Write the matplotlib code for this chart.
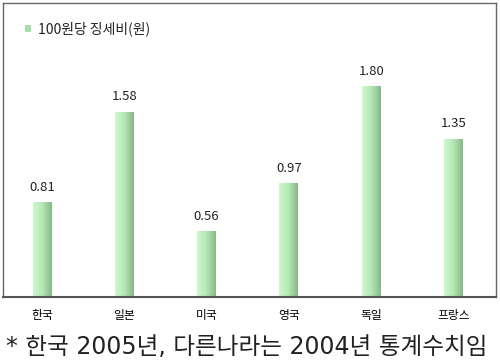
import matplotlib
matplotlib.use("Agg")
import matplotlib.pyplot as plt
import numpy as np
from matplotlib.colors import LinearSegmentedColormap
from matplotlib.patches import Rectangle

plt.rcParams['font.family'] = ['Noto Sans CJK KR', 'DejaVu Sans']

categories = ['한국', '일본', '미국', '영국', '독일', '프랑스']
values = [0.81, 1.58, 0.56, 0.97, 1.80, 1.35]
value_labels = ['0.81', '1.58', '0.56', '0.97', '1.80', '1.35']
legend_label = '100원당 징세비(원)'
footnote = '* 한국 2005년, 다른나라는 2004년 통계수치임'

W, H = 500, 362
fig = plt.figure(figsize=(W / 100, H / 100), dpi=100)
ax = fig.add_axes([3 / W, 1 - 297 / H, 493 / W, 294 / H])
ax.set_xlim(-0.474, 5.516)
ax.set_ylim(0, 2.508)

x = np.arange(len(categories))
bars = ax.bar(x, values, width=0.23, color='none', edgecolor='none')

cmap = LinearSegmentedColormap.from_list('g', ['#ccf9cc', '#b5e6b5', '#88b888'])
grad = np.linspace(0, 1, 64).reshape(1, -1)
for b in bars:
    x0, w, h = b.get_x(), b.get_width(), b.get_height()
    im = ax.imshow(grad, cmap=cmap, extent=[x0, x0 + w, 0, h], aspect='auto',
                   interpolation='bilinear', zorder=2)
    im.set_clip_path(b)

for xi, v, lab in zip(x, values, value_labels):
    ax.annotate(lab, (xi, v), xytext=(0, 6), textcoords='offset points',
                ha='center', va='bottom', fontsize=9.5, color='#222222')

ax.set_xticks(x)
ax.set_xticklabels(categories, fontsize=8.5)
ax.tick_params(axis='x', length=0, pad=9)
ax.set_yticks([])
for s in ax.spines.values():
    s.set_color('#666666')
    s.set_linewidth(1.0)
ax.spines['bottom'].set_color('#555555')
ax.spines['bottom'].set_linewidth(1.5)

# legend
ax.add_patch(Rectangle((0.045, 0.9), 0.012, 0.024, transform=ax.transAxes,
                       facecolor='#a8dca8', edgecolor='none'))
ax.text(0.070, 0.912, legend_label, transform=ax.transAxes, fontsize=10,
        va='center', ha='left', color='#222222')

fig.text(6 / W, 1 - 347 / H, footnote, fontsize=17, va='center', ha='left',
         color='#222222', family=['DejaVu Sans', 'Noto Sans CJK KR'])

fig.savefig('out.png', dpi=100)
